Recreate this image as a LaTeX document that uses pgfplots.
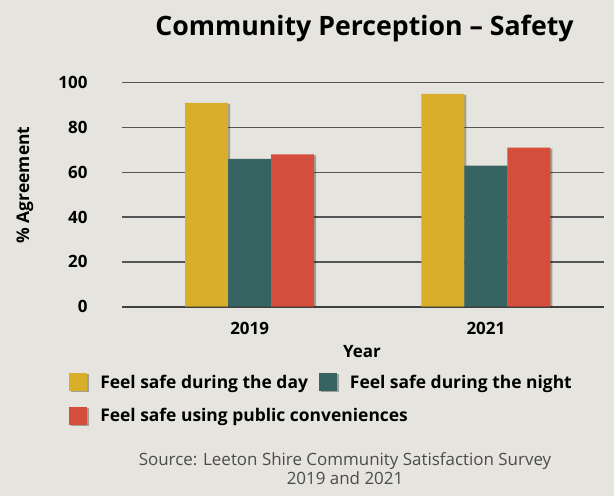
\documentclass[border=0pt]{standalone}
\usepackage{pgfplots}
\pgfplotsset{compat=1.18}
\usepackage{fontspec}
\setmainfont{Open Sans}
\definecolor{bg}{RGB}{230,228,222}
\definecolor{cday}{RGB}{216,174,43}
\definecolor{cnight}{RGB}{55,100,98}
\definecolor{cpub}{RGB}{212,78,59}
\definecolor{gridc}{RGB}{85,85,85}
\definecolor{srcc}{RGB}{75,75,75}
\begin{document}
\begin{tikzpicture}
\fill[bg] (0bp,0bp) rectangle (614bp,496bp);
\node[font=\bfseries\fontsize{26.8}{32}\selectfont] at (364.5bp,468bp) {Community Perception – Safety};
\node[rotate=90,font=\bfseries\fontsize{17.5}{21}\selectfont] at (25bp,311bp) {\% Agreement};
\node[font=\bfseries\fontsize{17}{20}\selectfont] at (362bp,144bp) {Year};
\node[font=\fontsize{17}{21}\selectfont, text=srcc, align=center] at (345bp,27bp)
  {Source: Leeton Shire Community Satisfaction Survey\\[-2pt]2019 and 2021};
\begin{axis}[
  at={(122bp,189.3bp)}, anchor=south west,
  scale only axis, width=482bp, height=224bp,
  xmin=-0.54, xmax=1.5, ymin=0, ymax=100,
  ybar, bar width=43bp,
  ytick={0,20,...,100},
  xtick={0,1}, xticklabels={2019,2021},
  axis line style={draw=none},
  major tick length=0pt,
  ymajorgrids, grid style={gridc, line width=1.3pt},
  extra y ticks={0}, extra y tick labels={},
  extra y tick style={grid style={black!75, line width=2.4pt}},
  ticklabel style={font=\bfseries\fontsize{17}{20}\selectfont},
  /pgf/number format/assume math mode=true,
  yticklabel style={xshift=-31bp},
  xticklabel style={yshift=-12bp},
  legend columns=2,
  legend style={at={(-0.116,-0.285)}, anchor=north west, draw=none, fill=none,
    font=\bfseries\fontsize{17.5}{21}\selectfont,
    /tikz/every odd column/.append style={column sep=11bp},
    /tikz/every even column/.append style={column sep=9bp},
    row sep=15bp},
  legend image code/.code={\fill[#1] (0bp,-9bp) rectangle (18bp,9bp);},
  legend cell align=left,
  every axis plot/.append style={draw=none,
    preaction={fill=black, fill opacity=0.3, transform canvas={xshift=2bp, yshift=-1bp}}},
]
\addplot[fill=cday, bar shift=-43bp] coordinates {(0,91) (1,95)};
\addlegendentry{Feel safe during the day}
\addplot[fill=cnight, bar shift=0bp] coordinates {(0,66) (1,63)};
\addlegendentry{Feel safe during the night}
\addplot[fill=cpub, bar shift=43bp] coordinates {(0,68) (1,71)};
\addlegendentry{\makebox[0pt][l]{Feel safe using public conveniences}}
\end{axis}
\end{tikzpicture}
\end{document}
